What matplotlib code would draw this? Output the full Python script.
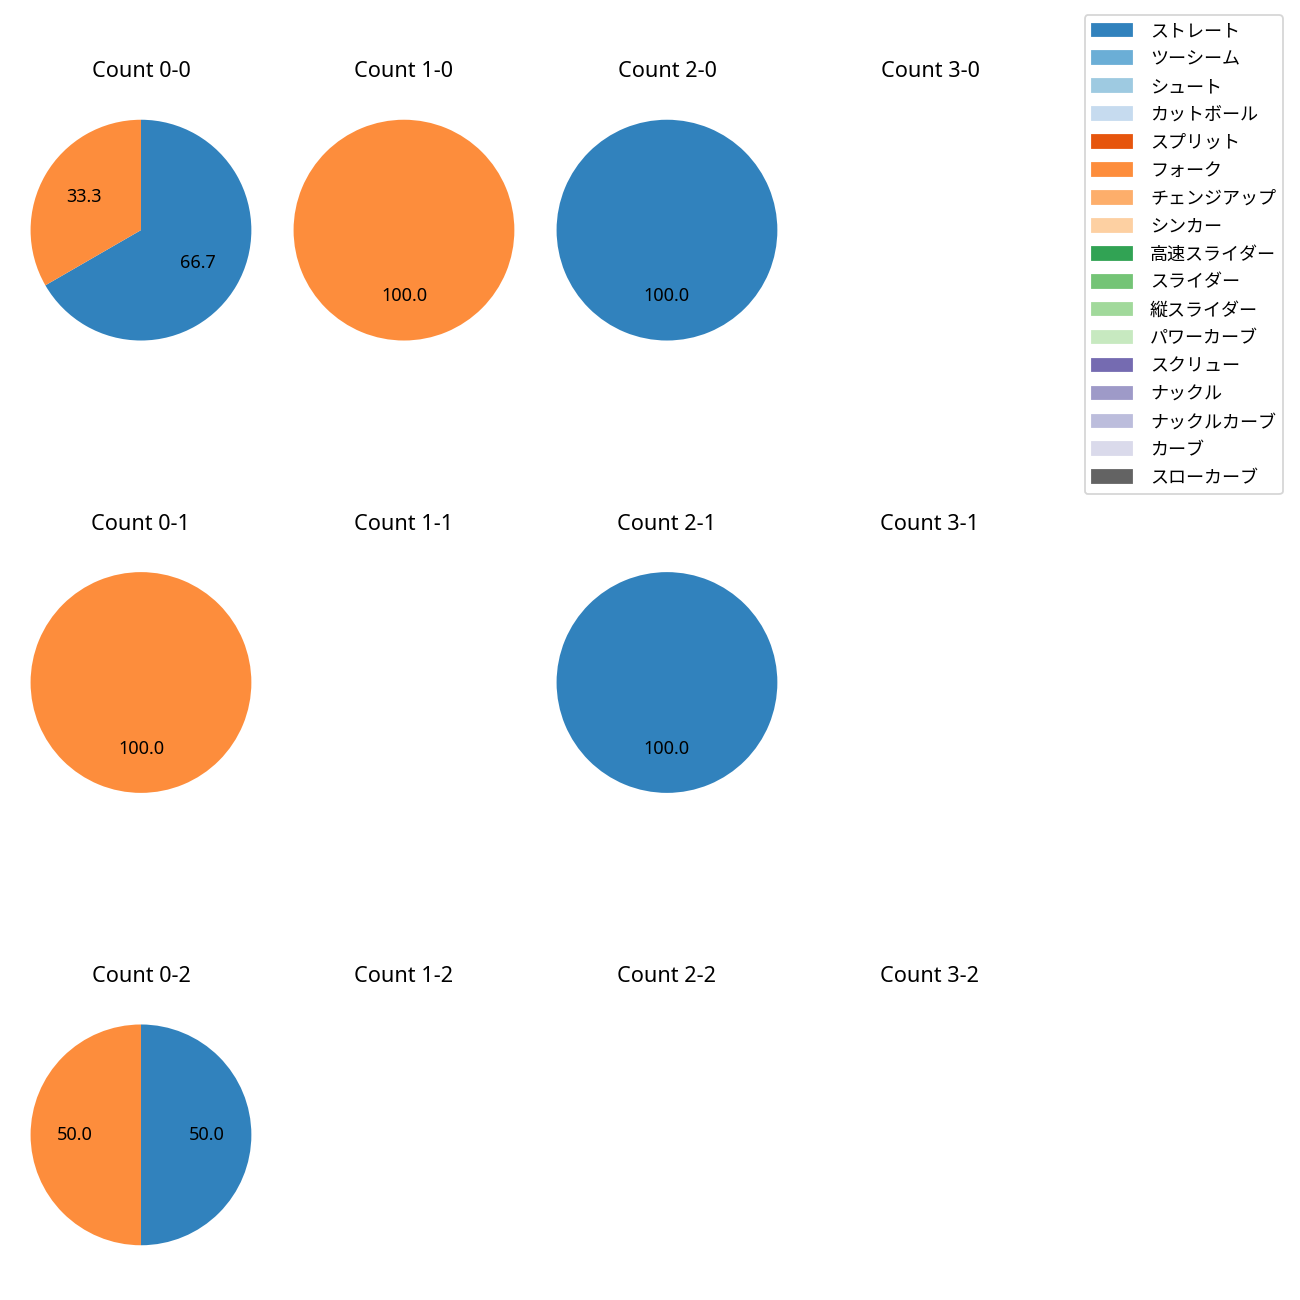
import matplotlib
matplotlib.use("Agg")
import matplotlib.pyplot as plt
from matplotlib.patches import Patch

plt.rcParams['font.family'] = ['Noto Sans', 'Noto Sans CJK JP', 'DejaVu Sans']

pitch_names = ["ストレート", "ツーシーム", "シュート", "カットボール", "スプリット", "フォーク",
               "チェンジアップ", "シンカー", "高速スライダー", "スライダー", "縦スライダー",
               "パワーカーブ", "スクリュー", "ナックル", "ナックルカーブ", "カーブ", "スローカーブ"]
cmap = plt.get_cmap('tab20c')
pitch_colors = [cmap(i) for i in range(16)] + [cmap(16)]

balls = [0, 1, 2, 3]
strikes = [0, 1, 2]
# pitch counts for each count (balls-strikes)
straight = {(0, 0): 2, (1, 0): 0, (2, 0): 1, (3, 0): 0,
            (0, 1): 0, (1, 1): 0, (2, 1): 1, (3, 1): 0,
            (0, 2): 1, (1, 2): 0, (2, 2): 0, (3, 2): 0}
fork = {(0, 0): 1, (1, 0): 1, (2, 0): 0, (3, 0): 0,
        (0, 1): 1, (1, 1): 0, (2, 1): 0, (3, 1): 0,
        (0, 2): 1, (1, 2): 0, (2, 2): 0, (3, 2): 0}

fig, axes = plt.subplots(3, 4, figsize=(10, 10))
plt.subplots_adjust(left=0.0023, right=0.8215, wspace=-0.047,
                    top=0.9292, bottom=0.0208, hspace=0.638)

for s in strikes:
    for b in balls:
        ax = axes[s, b]
        ax.set_title(f"Count {b}-{s}", pad=8.2)
        vals = [straight[(b, s)], fork[(b, s)]]
        cols = [pitch_colors[0], pitch_colors[5]]
        v = [x for x in vals if x > 0]
        c = [cc for x, cc in zip(vals, cols) if x > 0]
        if v:
            ax.pie(v, colors=c, autopct='%.1f', startangle=90, counterclock=False)
        ax.axis('off')

handles = [Patch(color=pitch_colors[i], label=pitch_names[i]) for i in range(len(pitch_names))]
fig.legend(handles=handles, loc='upper right', bbox_to_anchor=(0.987, 0.9885), borderaxespad=0,
           handlelength=2.2, handletextpad=1.0, labelspacing=0.55)

plt.savefig("out.png", dpi=130)
